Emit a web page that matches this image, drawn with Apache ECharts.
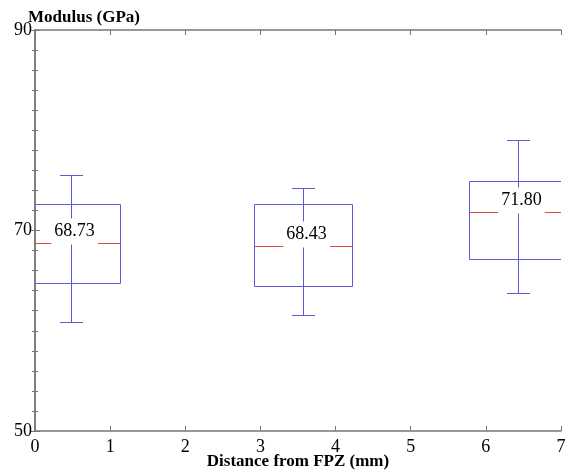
<!DOCTYPE html>
<html>
<head>
<meta charset="utf-8">
<script src="https://cdn.jsdelivr.net/npm/echarts@6/dist/echarts.min.js"></script>
<style>html,body{margin:0;padding:0;background:#fff;}#c{width:570px;height:474px;}</style>
</head>
<body>
<div id="c"></div>
<script>
// Data
const positions = [0.48, 3.57, 6.43];          // distance from FPZ (mm)
const lowerWhisker = [60.9, 61.6, 63.8];
const q1 = [64.8, 64.5, 67.2];
const median = [68.73, 68.43, 71.80];
const q3 = [72.6, 72.6, 74.9];
const upperWhisker = [75.5, 74.25, 79.0];
const xTicks = [0, 1, 2, 3, 4, 5, 6, 7];
const yTicks = [50, 70, 90];

const FONT = 'Liberation Serif';
const BLUE = '#5a5ad4';
const RED = '#dc4a4a';
const AXIS = '#777';
const BOX_HALF = 0.648; // data units
const CAP_HALF = 11.5;  // px

const data = positions.map((p, i) => [p, lowerWhisker[i], q1[i], median[i], q3[i], upperWhisker[i]]);

function crisp(v) { return Math.round(v) + 0.5; }

function renderItem(params, api) {
  const x = api.value(0);
  const c = v => api.coord([x, v]);
  const xc = crisp(c(api.value(3))[0]);
  const yLo = crisp(c(api.value(1))[1]);
  const yQ1 = crisp(c(api.value(2))[1]);
  const yMed = crisp(c(api.value(3))[1]);
  const yQ3 = crisp(c(api.value(4))[1]);
  const yHi = crisp(c(api.value(5))[1]);
  const half = Math.round(api.size([BOX_HALF, 0])[0]);
  const ls = { stroke: BLUE, lineWidth: 1, fill: null };
  return {
    type: 'group',
    children: [
      { type: 'rect', shape: { x: xc - half, y: yQ3, width: 2 * half, height: yQ1 - yQ3 }, style: ls },
      { type: 'line', shape: { x1: xc, y1: yHi, x2: xc, y2: yLo }, style: ls },
      { type: 'line', shape: { x1: xc - CAP_HALF, y1: yHi, x2: xc + CAP_HALF, y2: yHi }, style: ls },
      { type: 'line', shape: { x1: xc - CAP_HALF, y1: yLo, x2: xc + CAP_HALF, y2: yLo }, style: ls },
      { type: 'line', shape: { x1: xc - half, y1: yMed, x2: xc + half, y2: yMed }, style: { stroke: RED, lineWidth: 1 } },
      { type: 'text', style: {
          text: api.value(3).toFixed(2), x: xc + 3, y: yMed - 12,
          align: 'center', verticalAlign: 'middle',
          font: '18px "' + FONT + '"', fill: '#000',
          backgroundColor: '#fff', padding: [4, 3]
        } }
    ]
  };
}

const axisLine = { show: true, lineStyle: { color: AXIS, width: 1.5 } };

const chart = echarts.init(document.getElementById('c'), null, { renderer: 'canvas' });
chart.setOption({
  animation: false,
  backgroundColor: '#fff',
  grid: { left: 35, right: 9, top: 30, bottom: 43, containLabel: false, outerBoundsMode: 'none' },
  graphic: [{
    type: 'text', left: 28, top: 9,
    style: { text: 'Modulus (GPa)', font: 'bold 17px "' + FONT + '"', fill: '#000' }
  }],
  xAxis: [{
    type: 'value', min: xTicks[0], max: xTicks[xTicks.length - 1], interval: 1,
    axisLine: axisLine,
    axisTick: { show: true, inside: true, length: 5, lineStyle: { color: AXIS } },
    axisLabel: { fontFamily: FONT, fontSize: 18, color: '#000', margin: 7 },
    splitLine: { show: false },
    name: 'Distance from FPZ (mm)', nameLocation: 'middle', nameGap: 22, nameMoveOverlap: false,
    nameTextStyle: { fontFamily: FONT, fontSize: 17, fontWeight: 'bold', color: '#000' }
  }, {
    type: 'value', position: 'top', min: xTicks[0], max: xTicks[xTicks.length - 1], interval: 1,
    axisLine: axisLine,
    axisTick: { show: true, inside: true, length: 5, lineStyle: { color: AXIS } },
    axisLabel: { show: false }, splitLine: { show: false }
  }],
  yAxis: [{
    type: 'value', min: yTicks[0], max: yTicks[yTicks.length - 1], interval: 20,
    axisLine: axisLine,
    axisTick: { show: true, inside: true, length: 5, lineStyle: { color: AXIS } },
    minorTick: { show: true, splitNumber: 10, length: 3, lineStyle: { color: AXIS } },
    axisLabel: { fontFamily: FONT, fontSize: 18, color: '#000', margin: 3 },
    splitLine: { show: false }
  }, {
    type: 'value', position: 'right', min: yTicks[0], max: yTicks[yTicks.length - 1], interval: 20,
    axisLine: axisLine,
    axisTick: { show: true, inside: true, length: 5, lineStyle: { color: AXIS } },
    minorTick: { show: true, splitNumber: 10, length: 3, lineStyle: { color: AXIS } },
    axisLabel: { show: false }, splitLine: { show: false }
  }],
  series: [{
    type: 'custom',
    clip: true,
    renderItem: renderItem,
    encode: { x: 0, y: [1, 2, 3, 4, 5] },
    data: data
  }]
});
</script>
</body>
</html>
